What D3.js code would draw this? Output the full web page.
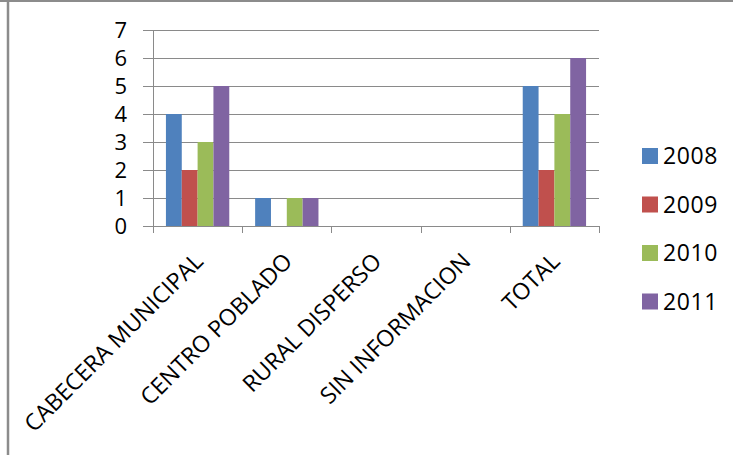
<!DOCTYPE html>
<html>
<head>
<meta charset="utf-8">
<script src="https://cdnjs.cloudflare.com/ajax/libs/d3/7.8.5/d3.min.js"></script>
<style>
  html, body { margin: 0; padding: 0; background: #fff; }
  svg { display: block; }
  text { font-family: "Open Sans", sans-serif; fill: #000; }
</style>
</head>
<body>
<script>
const categories = ["CABECERA MUNICIPAL", "CENTRO POBLADO", "RURAL DISPERSO", "SIN INFORMACION", "TOTAL"];
const seriesNames = ["2008", "2009", "2010", "2011"];
const values2008 = [4, 1, 0, 0, 5];
const values2009 = [2, 0, 0, 0, 2];
const values2010 = [3, 1, 0, 0, 4];
const values2011 = [5, 1, 0, 0, 6];
const yTicks = [0, 1, 2, 3, 4, 5, 6, 7];
const colors = ["#4F81BD", "#C0504D", "#9BBB59", "#8064A2"];

const seriesValues = [values2008, values2009, values2010, values2011];
const data = categories.map((c, i) => ({
  cat: c,
  vals: seriesNames.map((s, j) => ({ key: s, value: seriesValues[j][i] }))
}));

const W = 733, H = 455;
const plotLeft = 153, plotRight = 599, plotTop = 30, plotBottom = 226;

const svg = d3.select("body").append("svg").attr("width", W).attr("height", H);

// outer frame (partial, as in the source screenshot)
svg.append("line").attr("x1", 0).attr("x2", W).attr("y1", 1).attr("y2", 1)
  .attr("stroke", "#8c8c8c").attr("stroke-width", 2);
svg.append("line").attr("x1", 8).attr("x2", 8).attr("y1", 0).attr("y2", H)
  .attr("stroke", "#8c8c8c").attr("stroke-width", 2.5);

const x0 = d3.scaleBand().domain(categories).range([plotLeft, plotRight]).paddingInner(0).paddingOuter(0);
const groupW = x0.bandwidth() * 0.71;
const x1 = d3.scaleBand().domain(seriesNames)
  .range([(x0.bandwidth() - groupW) / 2, (x0.bandwidth() + groupW) / 2]).padding(0);
const y = d3.scaleLinear().domain([0, 7]).range([plotBottom, plotTop]);
const color = d3.scaleOrdinal().domain(seriesNames).range(colors);

// gridlines
svg.append("g").selectAll("line").data(yTicks).join("line")
  .attr("x1", plotLeft - 10).attr("x2", plotRight)
  .attr("y1", d => Math.round(y(d)) + 0.5).attr("y2", d => Math.round(y(d)) + 0.5)
  .attr("stroke", "#8a8a8a").attr("stroke-width", 1);

// y axis labels
svg.append("g").selectAll("text").data(yTicks).join("text")
  .attr("x", 127).attr("y", d => y(d)).attr("dy", "0.36em")
  .attr("text-anchor", "end").style("font-size", "22px")
  .text(d => d);

// bars
svg.append("g").selectAll("g").data(data).join("g")
  .attr("transform", d => `translate(${x0(d.cat)},0)`)
  .selectAll("rect").data(d => d.vals).join("rect")
  .attr("x", d => x1(d.key)).attr("width", x1.bandwidth())
  .attr("y", d => y(d.value)).attr("height", d => y(0) - y(d.value))
  .attr("fill", d => color(d.key));

// y axis line
svg.append("line").attr("x1", plotLeft + 0.5).attr("x2", plotLeft + 0.5)
  .attr("y1", plotTop).attr("y2", plotBottom + 7)
  .attr("stroke", "#8a8a8a");

// x axis category ticks
const bounds = categories.map(c => x0(c)).concat([plotRight]);
svg.append("g").selectAll("line").data(bounds).join("line")
  .attr("x1", d => Math.round(d) + 0.5).attr("x2", d => Math.round(d) + 0.5)
  .attr("y1", plotBottom).attr("y2", plotBottom + 7)
  .attr("stroke", "#8a8a8a");

// category labels (rotated)
svg.append("g").selectAll("text").data(categories).join("text")
  .attr("transform", d => `translate(${x0(d) + x0.bandwidth() / 2 + 1},257) rotate(-45)`)
  .attr("text-anchor", "end").attr("dy", "0.36em")
  .style("font-size", "23px")
  .text(d => d);

// legend
const leg = svg.append("g").selectAll("g").data(seriesNames).join("g")
  .attr("transform", (d, i) => `translate(642,${148 + i * 48.5})`);
leg.append("rect").attr("width", 16).attr("height", 16).attr("fill", d => color(d));
leg.append("text").attr("x", 21).attr("y", 8).attr("dy", "0.36em")
  .style("font-size", "23px").style("letter-spacing", "0.6px").text(d => d);
</script>
</body>
</html>
